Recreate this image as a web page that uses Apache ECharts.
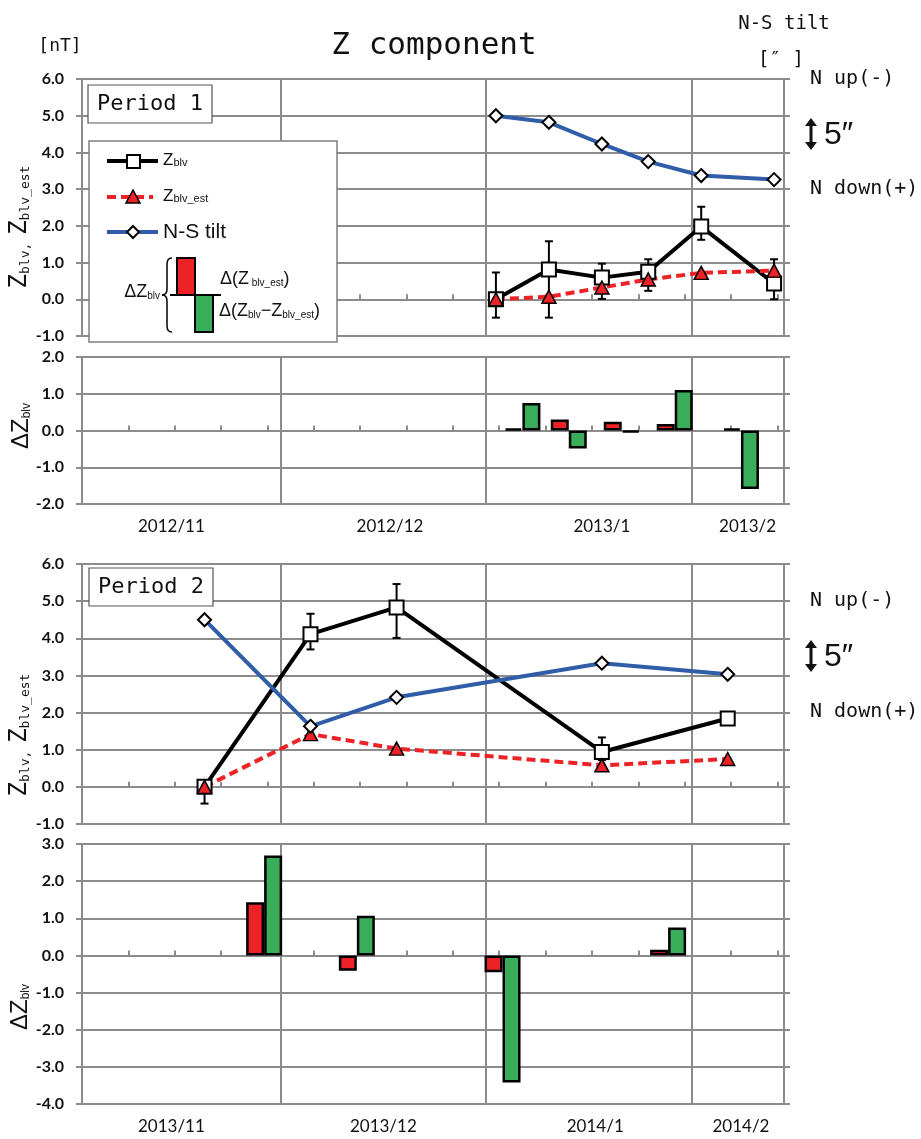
<!DOCTYPE html>
<html><head><meta charset="utf-8">
<script src="https://cdn.jsdelivr.net/npm/echarts@6/dist/echarts.min.js"></script>
<style>html,body{margin:0;padding:0;background:#fff}#c{width:921px;height:1139px}</style>
</head><body><div id="c"></div>
<script>
// ---------------- DATA ----------------
const axisDays = 106;
const p1Start = '2012/11/1';
const p2Start = '2013/11/1';
const p1MonthLabels = ['2012/11', '2012/12', '2013/1', '2013/2'];
const p1MonthLabelDates = ['2012/11/14', '2012/12/17', '2013/1/18', '2013/2/9'];
const p2MonthLabels = ['2013/11', '2013/12', '2014/1', '2014/2'];
const p2MonthLabelDates = ['2013/11/14', '2013/12/16', '2014/1/17', '2014/2/8'];
const mainYRange = [-1, 6];
const p1DeltaYRange = [-2, 2];
const p2DeltaYRange = [-4, 3];

// Period 1
const p1Dates = ['2013/1/2', '2013/1/10', '2013/1/18', '2013/1/25', '2013/2/2', '2013/2/13'];
const p1Zblv = [0.00, 0.81, 0.59, 0.75, 1.98, 0.43];
const p1ZblvErrHigh = [0.73, 1.58, 0.97, 1.09, 2.52, 1.09];
const p1ZblvErrLow = [-0.50, -0.50, 0.01, 0.23, 1.62, 0.00];
const p1ZblvEst = [0.00, 0.07, 0.32, 0.54, 0.72, 0.78];
const p1Tilt = [5.00, 4.82, 4.23, 3.75, 3.37, 3.26];
const p1DeltaDates = ['2013/1/6', '2013/1/13', '2013/1/21', '2013/1/29', '2013/2/8'];
const p1DeltaEst = [0.06, 0.30, 0.24, 0.18, 0.06];
const p1DeltaResid = [0.75, -0.49, -0.05, 1.10, -1.59];

// Period 2
const p2Dates = ['2013/11/19', '2013/12/5', '2013/12/18', '2014/1/18', '2014/2/6'];
const p2Zblv = [0.00, 4.11, 4.83, 0.94, 1.84];
const p2ZblvErrHigh = [0.15, 4.66, 5.46, 1.33, 1.90];
const p2ZblvErrLow = [-0.45, 3.70, 4.01, 0.72, 1.78];
const p2ZblvEst = [0.00, 1.42, 1.03, 0.58, 0.75];
const p2Tilt = [4.50, 1.63, 2.41, 3.33, 3.03];
const p2DeltaDates = ['2013/11/28', '2013/12/12', '2014/1/3', '2014/1/28'];
const p2DeltaEst = [1.43, -0.41, -0.45, 0.15];
const p2DeltaResid = [2.69, 1.07, -3.42, 0.75];

// ---------------- STYLE ----------------
const GRID = '#8c8c8c';
const BLUE = '#2f5da8';
const RED = '#ec2226';
const GREEN = '#3aad5b';
const MONO = 'DejaVu Sans Mono';
const SANS = 'Liberation Sans';
const LBL = 'Lato';

function makeDays(start, n) {
  const [y, m, d] = start.split('/').map(Number);
  const out = [];
  for (let i = 0; i < n; i++) {
    const dt = new Date(Date.UTC(y, m - 1, d + i));
    out.push(dt.getUTCFullYear() + '/' + (dt.getUTCMonth() + 1) + '/' + dt.getUTCDate());
  }
  return out;
}
const p1Cats = makeDays(p1Start, axisDays);
const p2Cats = makeDays(p2Start, axisDays);

function xAxesFor(gridIndex, cats, labelDates, labels, showLabels) {
  const monthIdx = [];
  cats.forEach((c, i) => { if (c.split('/')[2] === '1') monthIdx.push(i); });
  return [
    {
      type: 'category', gridIndex, data: cats, boundaryGap: true, position: 'bottom',
      axisLine: { show: false, onZero: false }, axisTick: { show: false },
      splitLine: { show: true, interval: (i) => monthIdx.indexOf(i) >= 0, lineStyle: { color: GRID, width: 2 } },
      axisLabel: {
        show: showLabels, interval: (i, v) => labelDates.indexOf(v) >= 0,
        formatter: (v) => labels[labelDates.indexOf(v)],
        margin: 14, fontFamily: LBL, fontSize: 17, color: '#111'
      }
    },
    {
      type: 'category', gridIndex, data: cats, boundaryGap: true, position: 'bottom',
      axisLine: { show: true, onZero: true, lineStyle: { color: GRID, width: 2 } },
      axisTick: { show: true, inside: true, length: 5, interval: (i) => i > 0 && i % 7 === 0, lineStyle: { color: GRID, width: 2 } },
      axisLabel: { show: false }, splitLine: { show: false }
    }
  ];
}
function yAxesFor(gridIndex, range) {
  return [
    {
      type: 'value', gridIndex, position: 'left', min: range[0], max: range[1], interval: 1,
      axisLine: { show: true, lineStyle: { color: GRID, width: 2 } },
      axisTick: { show: true, length: 6, lineStyle: { color: GRID, width: 2 } },
      splitLine: { show: true, lineStyle: { color: GRID, width: 2 } },
      axisLabel: { formatter: (v) => v.toFixed(1), margin: 18, fontFamily: LBL, fontSize: 16, fontWeight: 'bold', color: '#111' }
    },
    {
      type: 'value', gridIndex, position: 'right', min: range[0], max: range[1], interval: 1,
      axisLine: { show: true, lineStyle: { color: GRID, width: 2 } },
      axisTick: { show: true, length: 6, lineStyle: { color: GRID, width: 2 } },
      splitLine: { show: false }, axisLabel: { show: false }
    }
  ];
}
function errorSeries(xi, yi, dates, hi, lo) {
  return {
    type: 'custom', xAxisIndex: xi, yAxisIndex: yi, z: 1, silent: true,
    data: dates.map((d, i) => [d, hi[i], lo[i]]),
    encode: { x: 0, y: [1, 2] },
    renderItem(params, api) {
      const x = api.value(0);
      const top = api.coord([x, api.value(1)]);
      const bot = api.coord([x, api.value(2)]);
      const w = 4;
      const st = { stroke: '#000', lineWidth: 2 };
      return { type: 'group', children: [
        { type: 'line', shape: { x1: top[0], y1: top[1], x2: bot[0], y2: bot[1] }, style: st },
        { type: 'line', shape: { x1: top[0] - w, y1: top[1], x2: top[0] + w, y2: top[1] }, style: st },
        { type: 'line', shape: { x1: bot[0] - w, y1: bot[1], x2: bot[0] + w, y2: bot[1] }, style: st }
      ] };
    }
  };
}
function mainSeries(xi, yi, yiR, dates, zblv, hi, lo, est, tilt) {
  return [
    errorSeries(xi, yi, dates, hi, lo),
    { type: 'line', xAxisIndex: xi, yAxisIndex: yi, data: dates.map((d, i) => [d, zblv[i]]),
      showSymbol: true, showAllSymbol: true,
      symbol: 'rect', symbolSize: 14, lineStyle: { color: '#000', width: 4 },
      itemStyle: { color: '#fff', borderColor: '#000', borderWidth: 2 } },
    { type: 'line', xAxisIndex: xi, yAxisIndex: yi, data: dates.map((d, i) => [d, est[i]]),
      showSymbol: true, showAllSymbol: true,
      symbol: 'triangle', symbolSize: [14, 13], lineStyle: { color: RED, width: 4, type: [9, 5] },
      itemStyle: { color: RED, borderColor: '#000', borderWidth: 1.5 } },
    { type: 'line', xAxisIndex: xi, yAxisIndex: yiR, data: dates.map((d, i) => [d, tilt[i]]),
      showSymbol: true, showAllSymbol: true,
      symbol: 'diamond', symbolSize: 13, lineStyle: { color: BLUE, width: 4 },
      itemStyle: { color: '#fff', borderColor: '#000', borderWidth: 2 } }
  ];
}
function deltaSeries(xi, yi, dates, est, resid) {
  return [
    { type: 'bar', xAxisIndex: xi, yAxisIndex: yi, data: dates.map((d, i) => [d, est[i]]),
      barWidth: 18, barGap: '0%', itemStyle: { color: RED, borderColor: '#000', borderWidth: 2.5 } },
    { type: 'bar', xAxisIndex: xi, yAxisIndex: yi, data: dates.map((d, i) => [d, resid[i]]),
      barWidth: 18, barGap: '0%', itemStyle: { color: GREEN, borderColor: '#000', borderWidth: 2.5 } }
  ];
}

// ---------------- GRAPHIC (texts, legend) ----------------
function txt(x, y, text, opt) {
  return { type: 'text', x, y, z: 100,
    style: Object.assign({ text, fill: '#111', align: 'left', verticalAlign: 'middle' }, opt || {}) };
}
function richTxt(x, y, text, rich, align, rotation) {
  return { type: 'text', x, y, z: 100, rotation: rotation || 0,
    style: { text, rich, fill: '#111', align: align || 'left', verticalAlign: 'middle' } };
}
function tiltNotes(yUp, yArrow, yDown) {
  return [
    txt(810, yUp, 'N up(-)', { fontFamily: MONO, fontSize: 20 }),
    txt(810, yDown, 'N down(+)', { fontFamily: MONO, fontSize: 20 }),
    { type: 'line', z: 100, shape: { x1: 811, y1: yArrow - 11, x2: 811, y2: yArrow + 11 }, style: { stroke: '#111', lineWidth: 3 } },
    { type: 'polygon', z: 100, shape: { points: [[805, yArrow - 8], [817, yArrow - 8], [811, yArrow - 16]] }, style: { fill: '#111' } },
    { type: 'polygon', z: 100, shape: { points: [[805, yArrow + 8], [817, yArrow + 8], [811, yArrow + 16]] }, style: { fill: '#111' } },
    txt(824, yArrow + 1, '5″', { fontFamily: SANS + ', DejaVu Sans', fontSize: 32 })
  ];
}
function periodBox(x, y, label) {
  return [
    { type: 'rect', z: 99, shape: { x, y, width: 124, height: 38 }, style: { fill: '#fff', stroke: '#555', lineWidth: 1.2 } },
    txt(x + 62, y + 19, label, { fontFamily: MONO, fontSize: 22, align: 'center' })
  ];
}
function curve(x1, y1, cx, cy, x2, y2) {
  return { type: 'bezierCurve', z: 100, shape: { x1, y1, cpx1: cx, cpy1: cy, x2, y2 }, style: { fill: 'none', stroke: '#000', lineWidth: 1.5 } };
}
function seg(x1, y1, x2, y2, w) {
  return { type: 'line', z: 100, shape: { x1, y1, x2, y2 }, style: { stroke: '#000', lineWidth: w || 1.5 } };
}
const axisTitleRich = {
  Z: { fontFamily: MONO, fontSize: 24, fill: '#111', verticalAlign: 'bottom' },
  s: { fontFamily: MONO, fontSize: 13, fill: '#111', verticalAlign: 'bottom' }
};
const deltaTitleRich = {
  Z: { fontFamily: SANS, fontSize: 24, fill: '#111', verticalAlign: 'bottom' },
  s: { fontFamily: SANS, fontSize: 12, fill: '#111', verticalAlign: 'bottom' }
};
const legRich = {
  Z: { fontFamily: SANS, fontSize: 17, fill: '#111', verticalAlign: 'bottom' },
  s: { fontFamily: SANS, fontSize: 11, fill: '#111', verticalAlign: 'bottom' }
};
const legRich2 = {
  Z: { fontFamily: SANS, fontSize: 18, fill: '#111', verticalAlign: 'bottom' },
  s: { fontFamily: SANS, fontSize: 10, fill: '#111', verticalAlign: 'bottom' }
};
const ROT = Math.PI / 2;
const mainTitle = '{Z|Z}{s|blv, }{Z|Z}{s|blv_est}';
const deltaTitle = '{Z|ΔZ}{s|blv}';

const graphics = [
  txt(434, 46, 'Z component', { fontFamily: MONO, fontSize: 31, align: 'center' }),
  txt(60, 46, '[nT]', { fontFamily: MONO, fontSize: 18, align: 'center' }),
  txt(784, 24, 'N-S tilt', { fontFamily: MONO, fontSize: 19, align: 'center' }),
  txt(781, 60, '[″ ]', { fontFamily: MONO, fontSize: 19, align: 'center' }),
  ...tiltNotes(79, 134, 189),
  ...tiltNotes(601, 656, 712),
  ...periodBox(88, 85, 'Period 1'),
  ...periodBox(89, 568, 'Period 2'),
  richTxt(20, 227, mainTitle, axisTitleRich, 'center', ROT),
  richTxt(20, 735, mainTitle, axisTitleRich, 'center', ROT),
  richTxt(21, 426, deltaTitle, deltaTitleRich, 'center', ROT),
  richTxt(20, 1007, deltaTitle, deltaTitleRich, 'center', ROT),
  // legend box
  { type: 'rect', z: 98, shape: { x: 89, y: 141, width: 248, height: 201 }, style: { fill: '#fff', stroke: '#7f7f7f', lineWidth: 1.5 } },
  seg(107, 161, 158, 161, 4),
  { type: 'rect', z: 101, shape: { x: 127, y: 155, width: 13, height: 13 }, style: { fill: '#fff', stroke: '#000', lineWidth: 2 } },
  richTxt(163, 160, '{Z|Z}{s|blv}', legRich),
  { type: 'line', z: 100, shape: { x1: 107, y1: 197, x2: 153, y2: 197 }, style: { stroke: RED, lineWidth: 4, lineDash: [9, 5] } },
  { type: 'polygon', z: 101, shape: { points: [[126, 203], [140, 203], [133, 190]] }, style: { fill: RED, stroke: '#000', lineWidth: 1.5 } },
  richTxt(163, 196, '{Z|Z}{s|blv_est}', legRich),
  { type: 'line', z: 100, shape: { x1: 107, y1: 232, x2: 158, y2: 232 }, style: { stroke: BLUE, lineWidth: 4 } },
  { type: 'polygon', z: 101, shape: { points: [[133, 226], [139, 232], [133, 238], [127, 232]] }, style: { fill: '#fff', stroke: '#000', lineWidth: 2 } },
  txt(163, 232, 'N-S tilt', { fontFamily: SANS, fontSize: 21 }),
  { type: 'rect', z: 100, shape: { x: 177, y: 258, width: 18, height: 37 }, style: { fill: RED, stroke: '#000', lineWidth: 2 } },
  { type: 'rect', z: 100, shape: { x: 195, y: 295, width: 18, height: 37 }, style: { fill: GREEN, stroke: '#000', lineWidth: 2 } },
  seg(170, 295, 221, 295, 2),
  curve(172, 258, 167, 258, 167, 264),
  seg(167, 264, 167, 289),
  curve(167, 289, 167, 295, 162, 295),
  curve(162, 295, 167, 295, 167, 301),
  seg(167, 301, 167, 326),
  curve(167, 326, 167, 332, 172, 332),
  richTxt(160, 292, '{Z|ΔZ}{s|blv}', legRich2, 'right'),
  richTxt(220, 279, '{Z|Δ(Z}{s| blv_est}{Z|)}', legRich2),
  richTxt(219, 311, '{Z|Δ(Z}{s|blv}{Z|−Z}{s|blv_est}{Z|)}', legRich2)
];

// ---------------- OPTION ----------------
const chart = echarts.init(document.getElementById('c'), null, { renderer: 'canvas' });
chart.setOption({
  animation: false,
  backgroundColor: '#fff',
  grid: [
    { left: 82, right: 137, top: 79, height: 257 },
    { left: 82, right: 137, top: 357, height: 147 },
    { left: 82, right: 137, top: 564, height: 260 },
    { left: 82, right: 137, top: 844, height: 260 }
  ],
  xAxis: [
    ...xAxesFor(0, p1Cats, p1MonthLabelDates, p1MonthLabels, false),
    ...xAxesFor(1, p1Cats, p1MonthLabelDates, p1MonthLabels, true),
    ...xAxesFor(2, p2Cats, p2MonthLabelDates, p2MonthLabels, false),
    ...xAxesFor(3, p2Cats, p2MonthLabelDates, p2MonthLabels, true)
  ],
  yAxis: [
    ...yAxesFor(0, mainYRange),
    ...yAxesFor(1, p1DeltaYRange),
    ...yAxesFor(2, mainYRange),
    ...yAxesFor(3, p2DeltaYRange)
  ],
  series: [
    ...mainSeries(0, 0, 1, p1Dates, p1Zblv, p1ZblvErrHigh, p1ZblvErrLow, p1ZblvEst, p1Tilt),
    ...deltaSeries(2, 2, p1DeltaDates, p1DeltaEst, p1DeltaResid),
    ...mainSeries(4, 4, 5, p2Dates, p2Zblv, p2ZblvErrHigh, p2ZblvErrLow, p2ZblvEst, p2Tilt),
    ...deltaSeries(6, 6, p2DeltaDates, p2DeltaEst, p2DeltaResid)
  ],
  graphic: graphics
});
</script></body></html>
